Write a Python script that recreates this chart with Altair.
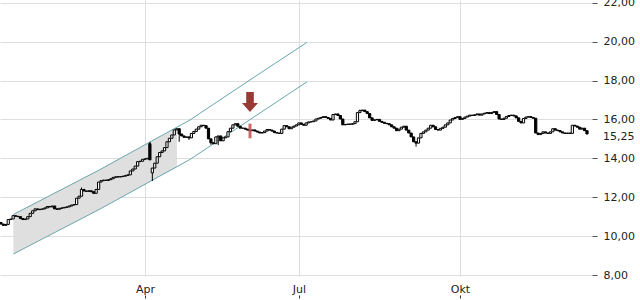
import altair as alt
import pandas as pd

# ---- daily closes (trading-day index 0..240) ----
closes = [
    10.62, 10.55, 10.6, 10.85, 10.88, 11.05, 11.02, 11.0, 10.9, 10.85,
    10.88, 11.0, 11.17, 11.3, 11.4, 11.36, 11.38, 11.4, 11.45, 11.52,
    11.5, 11.55, 11.4, 11.38, 11.43, 11.45, 11.48, 11.5, 11.55, 11.6,
    11.62, 11.95, 12.05, 12.4, 12.32, 12.3, 12.33, 12.28, 12.2, 12.4,
    12.78, 12.85, 12.88, 12.86, 12.9, 12.95, 13.02, 13.05, 13.04, 13.06,
    13.08, 13.12, 13.15, 13.35, 13.45, 13.6, 13.83, 13.85, 13.95, 13.97,
    14.0, 13.92, 13.5, 13.75, 14.08, 14.3, 14.38, 14.55, 14.85, 15.03,
    15.2, 15.46, 15.52, 15.25, 15.15, 15.08, 15.1, 15.05, 15.28, 15.38,
    15.5, 15.62, 15.7, 15.68, 15.55, 15.0, 14.8, 14.75, 15.1, 15.15,
    14.9, 15.05, 15.1, 15.37, 15.55, 15.72, 15.78, 15.65, 15.55, 15.55,
    15.5, 15.45, 15.42, 15.46, 15.4, 15.35, 15.3, 15.32, 15.4, 15.48,
    15.45, 15.4, 15.32, 15.3, 15.28, 15.5, 15.68, 15.62, 15.52, 15.6,
    15.66, 15.72, 15.82, 15.75, 15.7, 15.82, 15.87, 15.88, 15.92, 16.02,
    16.06, 16.1, 16.14, 16.1, 16.05, 15.97, 16.25, 16.28, 16.2, 16.02,
    15.72, 15.74, 15.76, 15.75, 15.78, 15.88, 16.35, 16.45, 16.48, 16.4,
    16.3, 16.08, 15.95, 15.98, 16.0, 15.9, 15.85, 15.8, 15.78, 15.72,
    15.62, 15.55, 15.42, 15.5, 15.6, 15.65, 15.45, 15.3, 15.1, 14.85,
    14.78, 15.05, 15.28, 15.36, 15.45, 15.55, 15.7, 15.62, 15.48, 15.45,
    15.54, 15.6, 15.72, 15.82, 15.97, 16.05, 16.1, 16.14, 16.0, 16.05,
    16.12, 16.17, 16.22, 16.2, 16.24, 16.28, 16.22, 16.28, 16.32, 16.35,
    16.3, 16.36, 16.4, 16.25, 16.02, 16.0, 16.06, 16.15, 16.2, 16.22,
    16.18, 16.08, 15.9, 15.82, 16.05, 16.12, 16.14, 16.1, 16.06, 15.3,
    15.22, 15.28, 15.36, 15.3, 15.28, 15.36, 15.52, 15.45, 15.42, 15.36,
    15.3, 15.28, 15.3, 15.28, 15.7, 15.66, 15.6, 15.5, 15.55, 15.42,
    15.25,
]
open_overrides = {0: 10.7, 61: 14.75, 62: 13.25, 85: 15.55, 219: 16.06, 240: 15.42}
high_overrides = {33: 12.5, 61: 14.85, 147: 16.5}
low_overrides = {62: 12.83, 73: 14.85, 77: 14.95, 86: 14.7, 89: 14.68, 170: 14.6}

month_ticks = [59, 122, 188]
month_labels = ["Apr", "Jul", "Okt"]
y_ticks = [8, 10, 12, 14, 16, 18, 20, 22]

# trend channel
channel_idx = [5.07, 40.57, 77.4, 102.0, 125.3]
channel_upper = [11.11, 13.42, 15.97, 18.03, 19.96]
channel_lower = [9.08, 11.39, 13.94, 15.99, 17.93]

# shaded zone
zone_idx = [5.07, 40.57, 72.1]
zone_upper = [11.11, 13.42, 15.58]
zone_lower = [9.08, 11.39, 13.55]

# signal
signal_idx = [102]
signal_arrow = [16.9]
signal_low = [15.03]
signal_high = [15.78]

last_price = 15.25

# ---- tables ----
rows = []
for i, c in enumerate(closes):
    o = open_overrides.get(i, closes[i - 1] if i > 0 else c)
    hi = max(o, c, high_overrides.get(i, c))
    lo = min(o, c, low_overrides.get(i, c))
    rows.append({"i": i, "open": o, "close": c, "high": hi, "low": lo,
                 "dir": "up" if c >= o else "down"})
candles = pd.DataFrame(rows)

ch_rows = []
for k, idx in enumerate(channel_idx):
    ch_rows.append({"i": idx, "v": channel_upper[k], "band": "upper"})
    ch_rows.append({"i": idx, "v": channel_lower[k], "band": "lower"})
channel = pd.DataFrame(ch_rows)
zone = pd.DataFrame({"i": zone_idx, "lo": zone_lower, "hi": zone_upper})
signal = pd.DataFrame({"i": signal_idx, "arrow": signal_arrow,
                       "lo": signal_low, "hi": signal_high})
price_lbl = pd.DataFrame({"v": [last_price],
                          "t": [f"{last_price:.2f}".replace(".", ",")]})

label_expr = " : ".join(
    f"datum.value == {v} ? '{l}'" for v, l in zip(month_ticks[:-1], month_labels[:-1])
) + f" : '{month_labels[-1]}'"

xscale = alt.Scale(domain=[-0.38, 242.05], nice=False, zero=False, padding=0)
yscale = alt.Scale(domain=[7.949, 22.139], nice=False, zero=False, padding=0)

FONT = "DejaVu Sans"
x_axis = alt.Axis(values=month_ticks, labelExpr=label_expr, grid=True,
                  gridColor="#dedede", domain=False, ticks=True, tickSize=3,
                  tickColor="#333333", offset=19, labelPadding=-15,
                  labelFont=FONT, labelFontSize=11, labelColor="#222222",
                  labelOverlap=False, labelBound=False, title=None)
y_axis = alt.Axis(values=y_ticks, orient="right",
                  labelExpr="replace(format(datum.value, '.2f'), '.', ',')",
                  grid=True, gridColor="#dedede", domain=False, tickSize=5,
                  tickColor="#555555", labelPadding=6, labelFont=FONT,
                  labelFontSize=11, labelColor="#222222",
                  labelOverlap=False, labelBound=False, title=None)


def X(field):
    return alt.X(field, scale=xscale, axis=x_axis)


def Y(field):
    return alt.Y(field, scale=yscale, axis=y_axis)


zone_layer = alt.Chart(zone).mark_area(color="#dddddd", opacity=0.95).encode(
    x=X("i:Q"), y=Y("lo:Q"), y2="hi:Q",
)

channel_layer = alt.Chart(channel).mark_line(color="#6aa6ad", strokeWidth=1).encode(
    x=X("i:Q"), y=Y("v:Q"), detail="band:N",
)

wick_layer = alt.Chart(candles).mark_rule(color="black", strokeWidth=1).encode(
    x=X("i:Q"), y=Y("low:Q"), y2="high:Q",
)

body_layer = alt.Chart(candles).mark_bar(width=2.2, stroke="black", strokeWidth=1).encode(
    x=X("i:Q"), y=Y("open:Q"), y2="close:Q",
    fill=alt.Fill("dir:N", scale=alt.Scale(domain=["up", "down"], range=["white", "black"]),
                  legend=None),
)

arrow_path = "M-0.38,-1 L0.38,-1 L0.38,0.1 L0.8,0.1 L0,1 L-0.8,0.1 L-0.38,0.1 Z"
arrow_layer = alt.Chart(signal).mark_point(shape=arrow_path, filled=True, fill="#9a3a35",
                                           size=400, strokeWidth=0, opacity=1).encode(
    x=X("i:Q"), y=Y("arrow:Q"),
)

sig_rule = alt.Chart(signal).mark_rule(color="#c0504d", strokeWidth=3, opacity=0.85).encode(
    x=X("i:Q"), y=Y("lo:Q"), y2="hi:Q",
)

price_text = alt.Chart(price_lbl).mark_text(align="left", baseline="middle", dy=3,
                                            font=FONT, fontSize=11, color="#222222").encode(
    x=alt.value(603), y=Y("v:Q"), text="t:N",
)

chart = alt.layer(
    zone_layer, channel_layer, wick_layer, body_layer, sig_rule, arrow_layer, price_text
).properties(
    width=592, height=276,
    autosize=alt.AutoSizeParams(type="none"),
    padding={"left": 0, "top": 0, "right": 48, "bottom": 24},
    background="white",
).configure_view(stroke=None)

chart.save("out.html", embed_options={"renderer": "svg", "actions": False})
